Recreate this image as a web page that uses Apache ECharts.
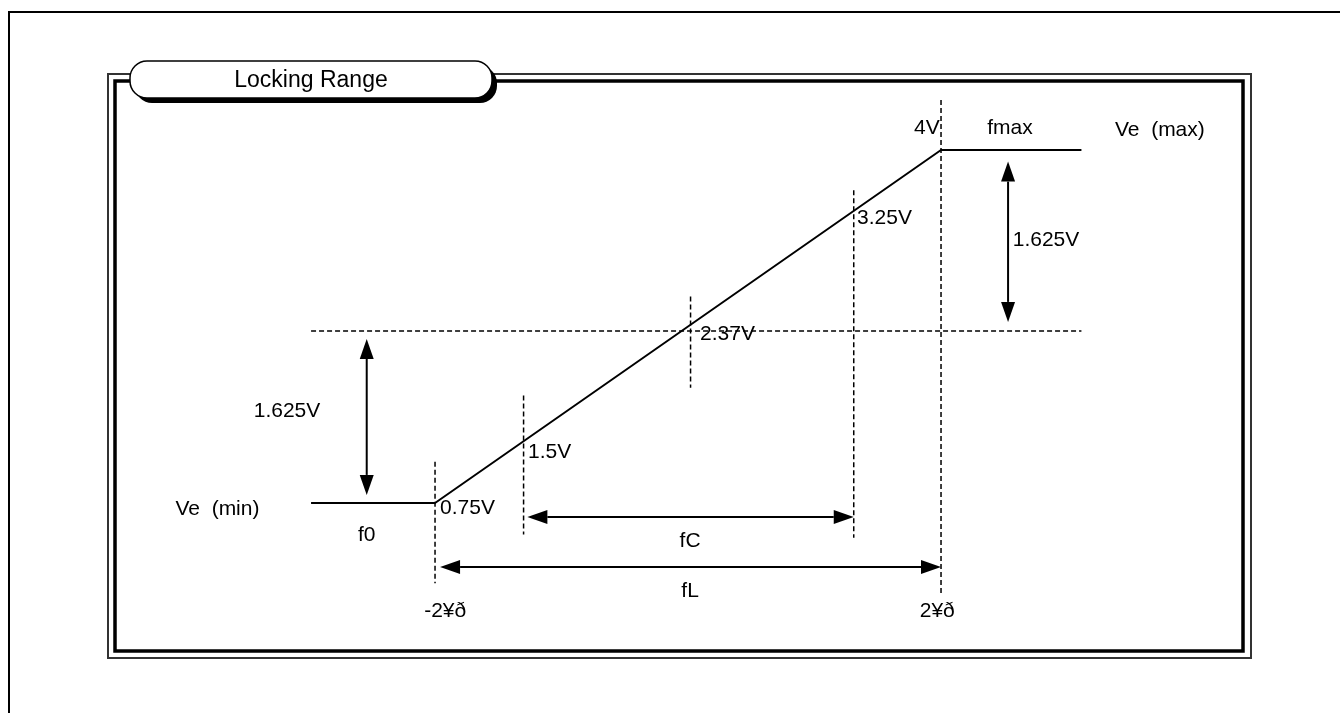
<!DOCTYPE html>
<html><head><meta charset="utf-8">
<script src="https://cdn.jsdelivr.net/npm/echarts@6/dist/echarts.min.js"></script>
<style>html,body{margin:0;padding:0;background:#fff}#c{width:1340px;height:713px}</style>
</head><body><div id="c"></div>
<script>
// ---- data (frequency units: lock limits at -2 / +2; voltage in V) ----
const curveX = [-2.98, -2, 2, 3.11];
const curveV = [0.75, 0.75, 4, 4];
const refLevelX = [-2.98, 3.11];
const refLevelV = 2.334;
const guideX = [-2, -1.30, 0.02, 1.31, 2];
const guideTop = [1.13, 1.74, 2.65, 3.63, 4.46];
const guideBottom = [0.01, 0.46, 1.81, 0.43, -0.10];
const voltLabels = ['0.75V', '1.5V', '2.37V', '3.25V', '4V'];
const voltLabelX = [-1.96, -1.265, 0.095, 1.336, 1.99];
const voltLabelV = [0.70, 1.22, 2.30, 3.37, 4.20];
const voltAlign = ['left', 'left', 'left', 'left', 'right'];
// arrows: [x1, v1, x2, v2]
const arrowRows = [
  [-2.54, 2.26, -2.54, 0.824],
  [2.53, 3.893, 2.53, 2.417],
  [-1.27, 0.621, 1.31, 0.621],
  [-1.96, 0.161, 2.0, 0.161]
];
const spanLabels = ['1.625V', '1.625V'];
const spanLabelX = [-3.17, 2.83];
const spanLabelV = [1.597, 3.17];
const rangeLabels = ['fC', 'fL'];
const rangeLabelX = [0.016, 0.016];
const rangeLabelV = [0.40, -0.06];
const levelLabels = ['Ve  (min)', 'Ve  (max)'];
const levelLabelX = [-3.72, 3.73];
const levelLabelV = [0.695, 4.185];
const freqLabels = ['f0', 'fmax'];
const freqLabelX = [-2.54, 2.545];
const freqLabelV = [0.455, 4.203];
const freqTickLabels = ['-2¥ð', '2¥ð'];
const freqTickX = [-1.92, 1.97];
const freqTickV = -0.245;
const title = 'Locking Range';

const FONT = "'Liberation Sans', Arial, sans-serif";
const chart = echarts.init(document.getElementById('c'), null, {renderer: 'canvas'});

const series = [];
series.push({
  type: 'line', data: curveX.map((x, i) => [x, curveV[i]]), symbol: 'none', silent: true,
  lineStyle: {color: '#000', width: 2}, animation: false
});
series.push({
  type: 'line', data: refLevelX.map(x => [x, refLevelV]), symbol: 'none', silent: true,
  lineStyle: {color: '#000', width: 1.5, type: [5, 3]}, animation: false
});
guideX.forEach((x, i) => series.push({
  type: 'line', data: [[x, guideTop[i]], [x, guideBottom[i]]], symbol: 'none', silent: true,
  lineStyle: {color: '#000', width: 1.5, type: [5, 3]}, animation: false
}));
series.push({
  type: 'custom', data: arrowRows, animation: false, silent: true,
  renderItem: function (params, api) {
    const p1 = api.coord([api.value(0), api.value(1)]);
    const p2 = api.coord([api.value(2), api.value(3)]);
    const dx = p2[0] - p1[0], dy = p2[1] - p1[1];
    const L = Math.sqrt(dx * dx + dy * dy);
    const ux = dx / L, uy = dy / L, nx = -uy, ny = ux;
    const hl = 20, hw = 7;
    const head = (p, s) => {
      const bx = p[0] - s * ux * hl, by = p[1] - s * uy * hl;
      return {type: 'polygon', shape: {points: [[p[0], p[1]], [bx + nx * hw, by + ny * hw], [bx - nx * hw, by - ny * hw]]},
        style: {fill: '#000'}};
    };
    return {type: 'group', children: [
      {type: 'line', shape: {x1: p1[0] + ux * hl, y1: p1[1] + uy * hl, x2: p2[0] - ux * hl, y2: p2[1] - uy * hl},
        style: {stroke: '#000', lineWidth: 2}},
      head(p1, -1), head(p2, 1)
    ]};
  }
});
function textSeries(texts, xs, vs, aligns) {
  return {
    type: 'scatter', symbolSize: 0, animation: false, silent: true,
    itemStyle: {color: '#000', opacity: 1},
    data: texts.map((t, i) => ({
      name: t, value: [xs[i], Array.isArray(vs) ? vs[i] : vs],
      label: {align: aligns ? aligns[i] : 'center'}
    })),
    label: {show: true, position: 'inside', formatter: p => p.name, color: '#000',
      textBorderWidth: 0, textBorderColor: 'transparent',
      fontSize: 21, fontFamily: FONT, verticalAlign: 'middle'}
  };
}
series.push(textSeries(voltLabels, voltLabelX, voltLabelV, voltAlign));
series.push(textSeries(spanLabels, spanLabelX, spanLabelV));
series.push(textSeries(rangeLabels, rangeLabelX, rangeLabelV));
series.push(textSeries(levelLabels, levelLabelX, levelLabelV));
series.push(textSeries(freqLabels, freqLabelX, freqLabelV));
series.push(textSeries(freqTickLabels, freqTickX, freqTickV));

chart.setOption({
  animation: false,
  backgroundColor: '#fff',
  grid: {left: 0, right: 0, top: 0, bottom: 0},
  xAxis: {type: 'value', min: -5.439, max: 5.154, show: false},
  yAxis: {type: 'value', min: -1.184, max: 5.381, show: false},
  graphic: [
    {type: 'line', shape: {x1: 8, y1: 12, x2: 1340, y2: 12}, style: {stroke: '#000', lineWidth: 2}, z: -1},
    {type: 'line', shape: {x1: 9, y1: 12, x2: 9, y2: 713}, style: {stroke: '#000', lineWidth: 2}, z: -1},
    {type: 'rect', shape: {x: 108, y: 74, width: 1143, height: 584}, style: {fill: null, stroke: '#333', lineWidth: 2}, z: -1},
    {type: 'rect', shape: {x: 115, y: 81, width: 1128, height: 570}, style: {fill: null, stroke: '#000', lineWidth: 3.5}, z: -1},
    {type: 'rect', shape: {x: 135, y: 66, width: 362, height: 37, r: 17}, style: {fill: '#000'}, z: 10},
    {type: 'rect', shape: {x: 130, y: 61, width: 362, height: 37, r: 17}, style: {fill: '#fff', stroke: '#000', lineWidth: 1.5}, z: 11},
    {type: 'text', x: 311, y: 81, z: 12, style: {text: title, font: '23px ' + FONT, fill: '#000', align: 'center', verticalAlign: 'middle'}}
  ],
  series: series
});
</script></body></html>
